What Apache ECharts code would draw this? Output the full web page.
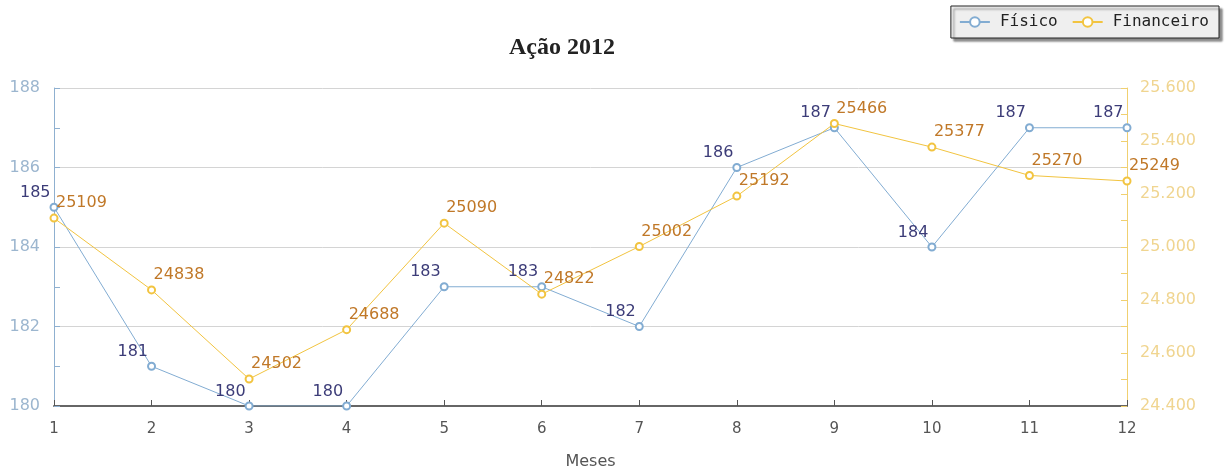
<!DOCTYPE html>
<html><head><meta charset="utf-8">
<script src="https://cdn.jsdelivr.net/npm/echarts@6/dist/echarts.min.js"></script>
<style>html,body{margin:0;padding:0;background:#fff}#c{width:1226px;height:468px}</style>
</head><body><div id="c"></div>
<script>
const months = ['1','2','3','4','5','6','7','8','9','10','11','12'];
const fisico = [185,181,180,180,183,183,182,186,187,184,187,187];
const financeiro = [25109,24838,24502,24688,25090,24822,25002,25192,25466,25377,25270,25249];
const leftTicks = {min:180, max:188, interval:2};
const rightTicks = {min:24400, max:25600, interval:200};

const chart = echarts.init(document.getElementById('c'), null, {renderer:'canvas'});
chart.setOption({
  animation:false,
  backgroundColor:'#fff',
  title:{text:'Ação 2012', left:504, top:31,
    textStyle:{fontFamily:'Liberation Serif', fontWeight:'bold', fontSize:24, color:'#222'}},
  legend:{right:7, top:6, orient:'horizontal', itemWidth:30, itemHeight:12, itemGap:14,
    padding:[8,10,8,8], backgroundColor:'#efefef', borderColor:'#222', borderWidth:1,
    shadowColor:'rgba(0,0,0,0.45)', shadowOffsetX:3, shadowOffsetY:3, shadowBlur:2,
    textStyle:{fontFamily:'DejaVu Sans Mono', fontSize:16, color:'#222', padding:[0,0,0,5]},
    data:['Físico','Financeiro']},
  grid:{left:54, right:99, top:88, bottom:62, outerBoundsMode:'none', containLabel:false},
  xAxis:{type:'category', data:months, boundaryGap:false,
    name:'Meses', nameLocation:'middle', nameGap:48,
    nameTextStyle:{fontFamily:'DejaVu Sans', fontSize:16, color:'#555'},
    axisLine:{lineStyle:{color:'#666', width:2}},
    axisTick:{inside:true, length:6, lineStyle:{color:'#555'}},
    axisLabel:{fontFamily:'DejaVu Sans', fontSize:15, color:'#555', margin:16},
    splitLine:{show:false}},
  yAxis:[
    {type:'value', min:leftTicks.min, max:leftTicks.max, interval:leftTicks.interval,
     axisLine:{show:true, lineStyle:{color:'#8fb0d0'}},
     axisTick:{show:true, inside:true, length:6, lineStyle:{color:'#8fb0d0'}},
     minorTick:{show:true, splitNumber:2, length:6, lineStyle:{color:'#8fb0d0'}},
     axisLabel:{fontFamily:'DejaVu Sans', fontSize:16, color:'#9cb6cf', margin:14},
     splitLine:{show:true, lineStyle:{color:'#d4d4d4'}}},
    {type:'value', min:rightTicks.min, max:rightTicks.max, interval:rightTicks.interval,
     position:'right',
     axisLine:{show:true, lineStyle:{color:'#f0d070'}},
     axisTick:{show:true, inside:true, length:6, lineStyle:{color:'#f0d070'}},
     minorTick:{show:true, splitNumber:2, length:6, lineStyle:{color:'#f0d070'}},
     axisLabel:{fontFamily:'DejaVu Sans', fontSize:16, color:'#f0d590', margin:13,
       formatter:v=>(v/1000).toFixed(3)},
     splitLine:{show:false}}
  ],
  series:[
    {name:'Físico', type:'line', yAxisIndex:0, data:fisico,
     symbol:'emptyCircle', symbolSize:7,
     itemStyle:{color:'#82acd2', borderWidth:1.2},
     lineStyle:{color:'#82acd2', width:1},
     label:{show:true, position:[1,-2], align:'right', verticalAlign:'bottom',
       fontFamily:'DejaVu Sans', fontSize:16, color:'#3c3c78'}},
    {name:'Financeiro', type:'line', yAxisIndex:1, data:financeiro,
     symbol:'emptyCircle', symbolSize:7,
     itemStyle:{color:'#f2c440', borderWidth:1.2},
     lineStyle:{color:'#f2c440', width:1},
     label:{show:true, position:[6.5,-2.5], align:'left', verticalAlign:'bottom',
       fontFamily:'DejaVu Sans', fontSize:16, color:'#c07828'}}
  ]
});
</script></body></html>
